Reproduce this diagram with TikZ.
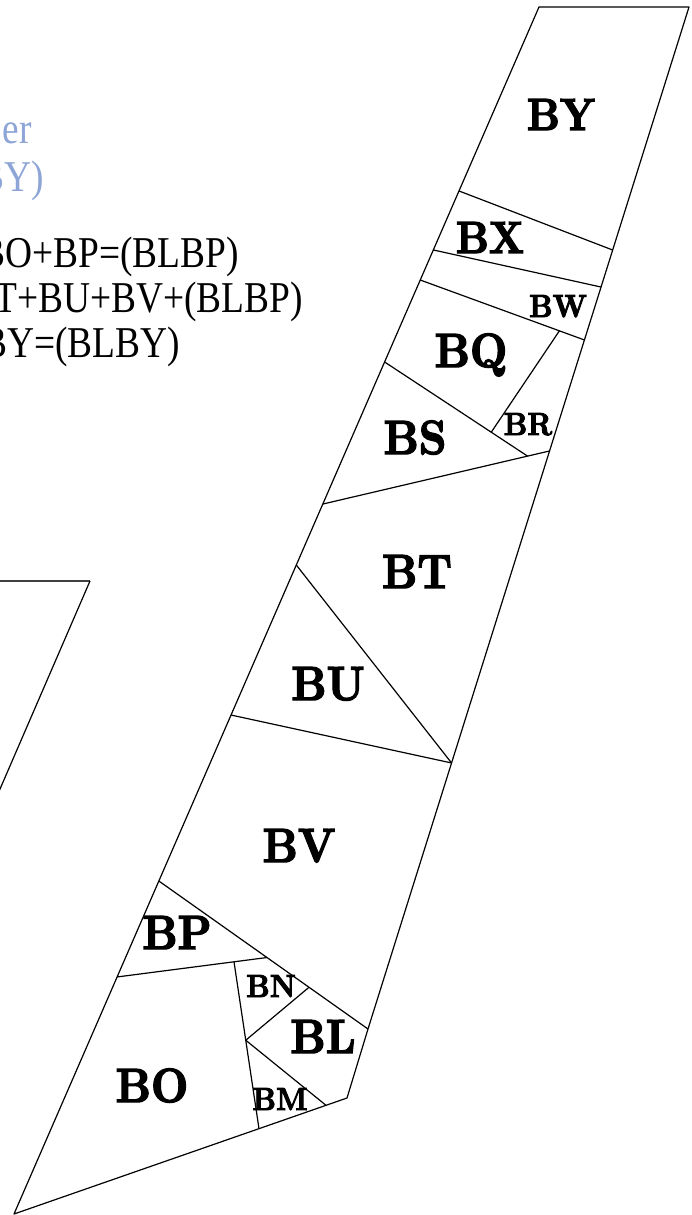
\documentclass[tikz,border=0pt]{standalone}
\usepackage{fontspec}
\newfontfamily\timesfont{Liberation Serif}
\newfontfamily\labfont{lmroman10-bold.otf}[FakeBold=3]
\usetikzlibrary{calc}
\definecolor{noteblue}{RGB}{142,165,215}
\newcommand{\sq}[1]{\scalebox{0.85}[1]{#1}}
\newcommand{\sqlab}[1]{\scalebox{0.9}[1]{#1}}
\tikzstyle{big} = [anchor=base, inner sep=0pt, font=\labfont\fontsize{48}{52}\selectfont]
\tikzstyle{mid} = [anchor=base, inner sep=0pt, font=\labfont\fontsize{45}{50}\selectfont]
\tikzstyle{small} = [anchor=base, inner sep=0pt, font=\labfont\fontsize{32}{36}\selectfont]
\tikzstyle{note} = [anchor=base east, inner sep=0pt, font=\timesfont\fontsize{44}{48}\selectfont]
\tikzstyle{edge} = [line width=1.2pt, line join=round]

\begin{document}
\begin{tikzpicture}[x=1pt, y=-1pt]
	\useasboundingbox (0,0) rectangle (692,1215);
	\clip (0,0) rectangle (692,1215);
	
	% outline
	\coordinate (TL) at (539,7);
	\coordinate (TR) at (689,7);
	\coordinate (RK) at (368,1029);
	\coordinate (RB) at (347,1098);
	\coordinate (BOT) at (14,1214);
	
	% points on the left side
	\coordinate (l1) at ($(TL)!0.1524!(BOT)$);
	\coordinate (l2) at ($(TL)!0.2013!(BOT)$);
	\coordinate (l3) at ($(TL)!0.2262!(BOT)$);
	\coordinate (l4) at ($(TL)!0.2941!(BOT)$);
	\coordinate (l5) at ($(TL)!0.4118!(BOT)$);
	\coordinate (l6) at ($(TL)!0.4623!(BOT)$);
	\coordinate (l7) at ($(TL)!0.5866!(BOT)$);
	\coordinate (l8) at ($(TL)!0.7241!(BOT)$);
	\coordinate (l9) at ($(TL)!0.8036!(BOT)$);
	% points on the right side
	\coordinate (r1) at ($(TR)!0.2378!(RK)$);
	\coordinate (r2) at ($(TR)!0.2740!(RK)$);
	\coordinate (r3) at ($(TR)!0.3258!(RK)$);
	\coordinate (r4) at ($(TR)!0.4344!(RK)$);
	\coordinate (r5) at ($(TR)!0.7397!(RK)$);
	% inner points
	\coordinate (q1) at ($(l3)!0.8476!(r3)$);
	\coordinate (s1) at ($(l5)!0.903!(r4)$);
	\coordinate (q2) at ($(l4)!0.746!(s1)$);
	\coordinate (p1) at ($(l8)!0.517!(RK)$);
	\coordinate (p2) at ($(l9)!0.78!(p1)$);
	\coordinate (m1) at ($(RB)!0.2643!(BOT)$);
	\coordinate (n1) at ($(l8)!0.718!(RK)$);
	\coordinate (n2) at ($(p2)!0.47!(m1)$);
	\coordinate (m2) at ($(RB)!0.063!(BOT)$);
	
	\draw [edge] (TL) -- (TR) -- (RK) -- (RB) -- (BOT) -- cycle;
	\draw [edge] (l1) -- (r1);
	\draw [edge] (l2) -- (r2);
	\draw [edge] (l3) -- (r3);
	\draw [edge] (q1) -- (q2);
	\draw [edge] (l4) -- (s1);
	\draw [edge] (l5) -- (r4);
	\draw [edge] (l6) -- (r5);
	\draw [edge] (l7) -- (r5);
	\draw [edge] (l8) -- (RK);
	\draw [edge] (l9) -- (p1);
	\draw [edge] (p2) -- (m1);
	\draw [edge] (n1) -- (n2) -- (m2);
	
	% second shape, cut at the left
	\coordinate (f0) at (-5,581);
	\coordinate (f1) at (90,581);
	\coordinate (f2) at (-5,800.6);
	\draw [edge, black!75] (f0) -- (f1);
	\draw [edge] (f1) -- (f2);
	
	\node (BY) [mid] at (561,130) {\sqlab{BY}};
	\node (BX) [mid] at (490,253) {\sqlab{BX}};
	\node (BW) [small] at (558,317) {\sqlab{BW}};
	\node (BQ) [big] at (471,367) {\sqlab{BQ}};
	\node (BR) [small] at (528,435) {\sqlab{BR}};
	\node (BS) [big] at (415,454) {\sqlab{BS}};
	\node (BT) [big] at (417,588) {\sqlab{BT}};
	\node (BU) [big] at (328,700) {\sqlab{BU}};
	\node (BV) [big] at (299,862) {\sqlab{BV}};
	\node (BP) [big] at (177,949) {\sqlab{BP}};
	\node (BN) [small] at (271,997) {\sqlab{BN}};
	\node (BL) [big] at (323,1053) {\sqlab{BL}};
	\node (BO) [big] at (152,1102) {\sqlab{BO}};
	\node (BM) [small] at (280,1110) {\sqlab{BM}};
	
	% notes, cut at the left
	\node (N1) [note, text=noteblue] at (32,143) {\sq{er}};
	\node (N2) [note, text=noteblue] at (44,191) {\sq{BY)}};
	\node (N3) [note] at (239,267) {\sq{BO+BP=(BLBP)}};
	\node (N4) [note] at (303,312) {\sq{T+BU+BV+(BLBP)}};
	\node (N5) [note] at (180,357) {\sq{BY=(BLBY)}};
\end{tikzpicture}
\end{document}
